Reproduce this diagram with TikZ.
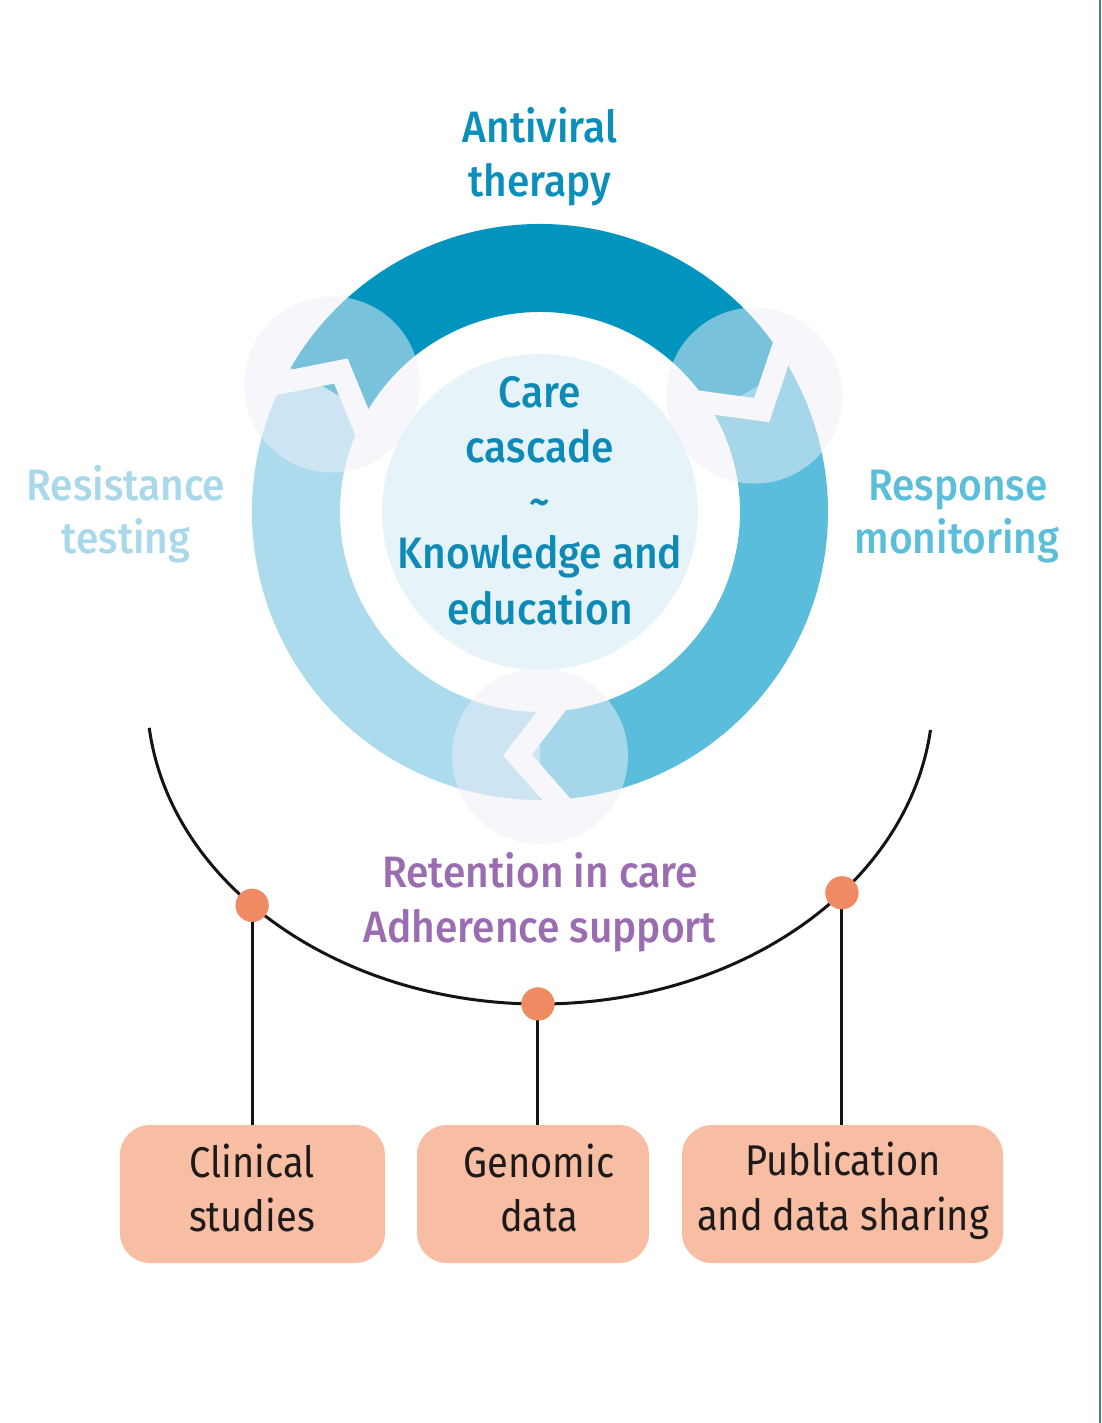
\documentclass[tikz,border=0pt]{standalone}
\usepackage{fontspec}
\setmainfont{Fira Sans}[FakeStretch=0.885]
\newfontfamily\medfont{Fira Sans Medium}[FakeStretch=0.925]
\usetikzlibrary{calc}
\definecolor{ringdark}{HTML}{0094BF}
\definecolor{ringmid}{HTML}{5ABDDB}
\definecolor{ringlight}{HTML}{ABDBEC}
\definecolor{innerc}{HTML}{E6F3F9}
\definecolor{jointc}{HTML}{F0F0F8}
\definecolor{avtext}{HTML}{0A8FBD}
\definecolor{cctext}{HTML}{0E8AB7}
\definecolor{restext}{HTML}{A9D8EA}
\definecolor{resptext}{HTML}{5BBEDB}
\definecolor{purp}{HTML}{9A6CB0}
\definecolor{boxfill}{HTML}{F8BEA3}
\definecolor{dotc}{HTML}{F08A62}
\definecolor{boxtext}{HTML}{1E1A1A}
\definecolor{edgegreen}{HTML}{3D8F6A}
\begin{document}
\begin{tikzpicture}[x=1pt,y=-1pt,
  lbl/.style={anchor=base, inner sep=0pt, font=\medfont\fontsize{44}{52}\selectfont},
  boxtxt/.style={anchor=base, inner sep=0pt, text=boxtext, font=\fontsize{43}{52}\selectfont},
  databox/.style={draw=none, fill=boxfill, rounded corners=30pt, inner sep=0pt},
  dot/.style={circle, fill=dotc, minimum size=33pt, inner sep=0pt},
  conn/.style={draw=black!92, line width=3pt},
  gap/.style={draw=white, line width=22pt, line join=miter, line cap=butt},
  joint/.style={fill=jointc, fill opacity=0.5},
]
\useasboundingbox (0,0) rectangle (1101,1423);
\fill[white] (0,0) rectangle (1101,1423);

% ring
\begin{scope}[shift={(540,512)}, yscale=-1]
  \fill[ringdark] (30:288) arc[start angle=30, end angle=150, radius=288]
     -- (150:200) arc[start angle=150, end angle=30, radius=200] -- cycle;
  \fill[ringmid] (-90:288) arc[start angle=-90, end angle=30, radius=288]
     -- (30:200) arc[start angle=30, end angle=-90, radius=200] -- cycle;
  \fill[ringlight] (150:288) arc[start angle=150, end angle=270, radius=288]
     -- (270:200) arc[start angle=270, end angle=150, radius=200] -- cycle;
  \foreach \a in {150,30,270} {
    \coordinate (v) at (\a-5.3:244);
    \coordinate (o) at (\a+3.6:290);
    \coordinate (i) at (\a+3.1:200);
    \draw[gap] ($(v)!1.35!(o)$) -- (v) -- ($(v)!1.35!(i)$);
  }
  \fill[innerc] (0,0) circle[radius=158];
  \foreach \a in {148.5,28.5,270} {
    \fill[joint] (\a:244) circle[radius=88];
  }
\end{scope}

% ring labels
\node[lbl, text=avtext] (av1) at (540,143) {Antiviral};
\node[lbl, text=avtext] (av2) at (540,197) {therapy};
\node[lbl, text=cctext] (cc1) at (540,407) {Care};
\node[lbl, text=cctext] (cc2) at (540,462) {cascade};
\node[lbl, text=cctext] (cc3) at (540,516) {\textasciitilde};
\node[lbl, text=cctext] (ke1) at (540,568) {Knowledge and};
\node[lbl, text=cctext] (ke2) at (540,624) {education};
\node[lbl, text=restext] (rt1) at (126,500) {Resistance};
\node[lbl, text=restext] (rt2) at (126,553) {testing};
\node[lbl, text=resptext] (rm1) at (958,500) {Response};
\node[lbl, text=resptext] (rm2) at (957,553) {monitoring};
\node[lbl, text=purp] (ra1) at (540,887) {Retention in care};
\node[lbl, text=purp] (ra2) at (540,942) {Adherence support};

% arc
\coordinate (arcL) at ($(540,695)+(173.9:393 and 309)$);
\draw[conn] (arcL) arc[start angle=173.9, end angle=6.5, x radius=393, y radius=309];

% boxes
\node[databox, minimum width=265pt, minimum height=138pt] (b1) at (252.5,1194) {};
\node[databox, minimum width=232pt, minimum height=138pt] (b2) at (533,1194) {};
\node[databox, minimum width=321pt, minimum height=138pt] (b3) at (842.5,1194) {};

% dots
\node[dot] (d1) at ($(540,695)+(137.1:393 and 309)$) {};
\node[dot] (d2) at ($(540,695)+(90.3:393 and 309)$) {};
\node[dot] (d3) at ($(540,695)+(39.8:393 and 309)$) {};

\draw[conn] (d1.center) -- (d1.center |- b1.north);
\draw[conn] (d2.center) -- (d2.center |- b2.north);
\draw[conn] (d3.center) -- (d3.center |- b3.north);
\node[dot] at (d1) {};
\node[dot] at (d2) {};
\node[dot] at (d3) {};

\node[boxtxt] (t1a) at (252,1177) {Clinical};
\node[boxtxt] (t1b) at (252,1231) {studies};
\node[boxtxt] (t2a) at (539,1177) {Genomic};
\node[boxtxt] (t2b) at (539,1231) {data};
\node[boxtxt] (t3a) at (843,1175) {Publication};
\node[boxtxt] (t3b) at (843,1230) {and data sharing};

% page edge rule
\draw[edgegreen, line width=2pt] (1100,0) -- (1100,1423);
\end{tikzpicture}
\end{document}
